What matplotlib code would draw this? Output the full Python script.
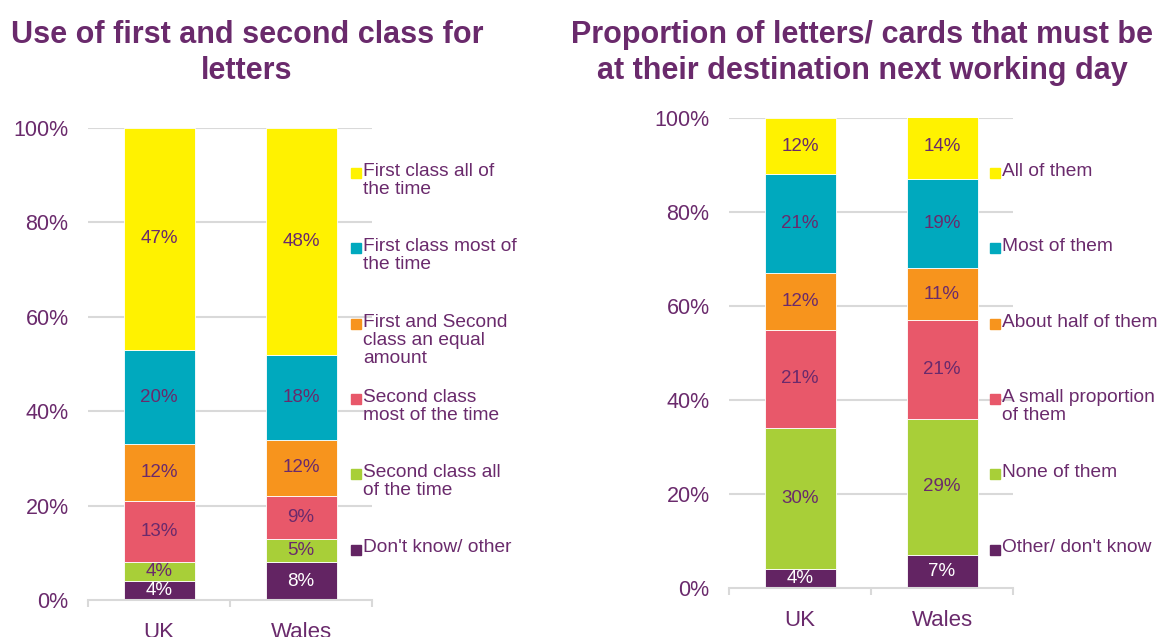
import matplotlib.pyplot as plt
from matplotlib.patches import Rectangle
import numpy as np

plt.rcParams['font.family'] = ['Liberation Sans', 'DejaVu Sans']

places = ['UK', 'Wales']

# left chart: use of first / second class (bottom -> top)
class_labels = ["Don't know/ other", "Second class all\nof the time",
                "Second class\nmost of the time", "First and Second\nclass an equal\namount",
                "First class most of\nthe time", "First class all of\nthe time"]
class_uk = [4, 4, 13, 12, 20, 47]
class_wales = [8, 5, 9, 12, 18, 48]

# right chart: proportion that must arrive next working day (bottom -> top)
dest_labels = ["Other/ don't know", "None of them", "A small proportion\nof them",
               "About half of them", "Most of them", "All of them"]
dest_uk = [4, 30, 21, 12, 21, 12]
dest_wales = [7, 29, 21, 11, 19, 14]

colors = ['#632463', '#a8cf38', '#e8586a', '#f7941d', '#00a9be', '#fff200']
purple = '#6a2a6c'
grid_col = '#d9d9d9'


def stacked(ax, uk, wales, labels, legend_x, legend_top, title, title_x):
    data = np.array([uk, wales]).T
    x = np.arange(len(places))
    bottom = np.zeros(len(places))
    for i, vals in enumerate(data):
        ax.bar(x, vals, 0.5, bottom=bottom, color=colors[i], edgecolor='white',
               linewidth=0.6, zorder=3)
        for xi, v, b in zip(x, vals, bottom):
            ax.text(xi, b + v / 2, f'{v}%', ha='center', va='center', fontsize=13.5,
                    color='white' if i == 0 else purple, zorder=4)
        bottom += vals
    ax.set_xlim(-0.5, 1.5)
    ax.set_ylim(0, 100)
    ax.set_yticks(range(0, 101, 20))
    ax.set_yticklabels([f'{v}%' for v in range(0, 101, 20)])
    ax.set_xticks(x)
    ax.set_xticklabels(places)
    ax.set_xticks([-0.5, 0.5, 1.5], minor=True)
    ax.tick_params(axis='x', which='major', length=0, pad=16, labelsize=16, labelcolor=purple)
    ax.tick_params(axis='x', which='minor', length=5, width=1.5, color=grid_col)
    ax.tick_params(axis='y', length=0, pad=14, labelsize=15.5, labelcolor=purple)
    for s in ['top', 'right', 'left']:
        ax.spines[s].set_visible(False)
    ax.spines['bottom'].set_color(grid_col)
    ax.spines['bottom'].set_linewidth(1.5)
    ax.spines['bottom'].set_zorder(5)
    for g in range(20, 101, 20):
        ax.axhline(g, color=grid_col, linewidth=1.5, zorder=1)

    # legend, top entry first, evenly spaced tops
    fig = ax.figure
    for k, i in enumerate(range(len(labels) - 1, -1, -1)):
        ty = legend_top + k * 75.3
        fig.patches.append(Rectangle((legend_x / 1161, 1 - (ty + 15) / 637), 10 / 1161, 10 / 637,
                                     transform=fig.transFigure, color=colors[i]))
        fig.text((legend_x + 12) / 1161, 1 - ty / 637, labels[i], ha='left', va='top',
                 fontsize=13.8, color=purple, linespacing=1.08)

    fig.text(title_x / 1161, 1 - 53 / 637, title, ha='center', va='center', fontsize=22,
             fontweight='bold', color=purple, linespacing=1.25)


fig = plt.figure(figsize=(11.61, 6.37), dpi=100)
ax1 = fig.add_axes([88 / 1161, 1 - 600 / 637, 284 / 1161, 472 / 637])
ax2 = fig.add_axes([729 / 1161, 1 - 588 / 637, 284 / 1161, 470 / 637])

stacked(ax1, class_uk, class_wales, class_labels, 351, 163,
        'Use of first and second class for\nletters', 247)
stacked(ax2, dest_uk, dest_wales, dest_labels, 990, 163,
        'Proportion of letters/ cards that must be\nat their destination next working day', 862)

fig.savefig('out.png', dpi=100)
